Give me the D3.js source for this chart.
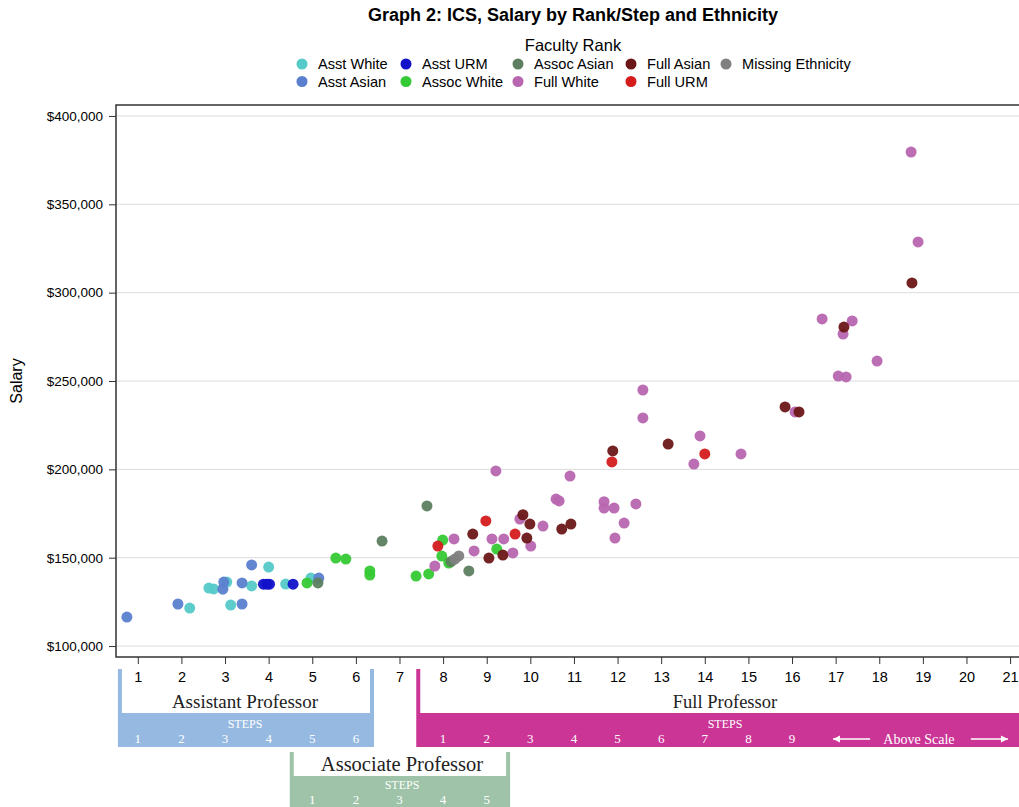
<!DOCTYPE html>
<html>
<head>
<meta charset="utf-8">
<script src="https://cdn.jsdelivr.net/npm/d3@7"></script>
<style>
  body { margin: 0; background: #fff; }
  svg { font-family: "Liberation Sans", Arial, sans-serif; }
</style>
</head>
<body>
<div id="chart"></div>
<script>
// [step, salary]
var asstWhite = [[2.19, 121500], [2.63, 132800], [2.74, 132300], [3.04, 136200], [3.13, 123200],
  [3.61, 134000], [4.00, 144700], [4.39, 135100], [4.97, 138500]];
var asstAsian = [[0.75, 116400], [1.92, 123800], [2.97, 136200], [2.95, 132200], [3.39, 135700],
  [3.61, 145900], [3.39, 123800], [5.15, 138500]];
var asstURM = [[3.88, 135000], [3.96, 135000], [4.02, 135000], [4.56, 135000]];
var assocWhite = [[4.88, 135700], [5.54, 149800], [5.77, 149200], [6.32, 142500], [6.32, 140200],
  [7.38, 139600], [7.67, 140800], [7.99, 160000], [7.97, 150900], [8.13, 147000], [9.23, 154900]];
var assocAsian = [[5.13, 135700], [6.60, 159400], [7.63, 179300], [8.59, 142500], [8.18, 147800]];
var fullWhite = [[18.73, 379600], [18.89, 328700], [16.69, 285100], [17.38, 284000], [17.17, 276600],
  [17.06, 252800], [17.24, 252300], [17.95, 261300], [16.07, 232500], [12.58, 244900], [12.58, 229100],
  [13.89, 218900], [13.75, 203000], [14.83, 208700], [10.91, 196200], [9.21, 199100],
  [11.69, 181700], [11.69, 178100], [11.92, 178100], [12.42, 180400], [12.15, 169600], [11.94, 161100],
  [10.59, 183200], [10.66, 182100], [9.76, 171900], [10.29, 167900], [8.25, 160600], [9.12, 160600],
  [9.39, 160600], [8.71, 153800], [9.60, 152700], [10.01, 156600], [7.81, 145300]];
var fullAsian = [[18.75, 305500], [17.19, 280500], [15.84, 235300], [16.16, 232500], [11.89, 210400],
  [13.16, 214300], [9.83, 174300], [9.99, 169000], [10.72, 166200], [10.93, 169000], [8.68, 163400],
  [9.92, 161100], [9.05, 149800], [9.37, 151500]];
var fullURM = [[14.00, 208700], [11.87, 204200], [8.98, 170800], [9.65, 163400], [7.88, 156600]];
var missingEth = [[8.36, 151000], [8.27, 149200]];

var seriesNames = ["Asst White", "Asst Asian", "Asst URM", "Assoc White", "Assoc Asian",
  "Full White", "Full Asian", "Full URM", "Missing Ethnicity"];
var seriesData = [asstWhite, asstAsian, asstURM, assocWhite, assocAsian, fullWhite, fullAsian, fullURM, missingEth];
var seriesColors = ["#56c9c9", "#5b7fcf", "#1212c9", "#35c935", "#5d7e5f", "#b866b0", "#6b1717", "#d41c1c", "#808080"];

var xTicks = d3.range(1, 22);
var yTicks = [100000, 150000, 200000, 250000, 300000, 350000, 400000];

var width = 1019, height = 807;
var plot = {left: 116, top: 105, right: 1021, bottom: 657};

var svg = d3.select("#chart").append("svg")
  .attr("width", width)
  .attr("height", height);

var x = d3.scaleLinear().domain([0.5, 21.25]).range([plot.left, plot.right]);
var y = d3.scaleLinear().domain([93800, 406200]).range([plot.bottom, plot.top]);

// title
svg.append("text")
  .attr("x", 573).attr("y", 21)
  .attr("text-anchor", "middle")
  .style("font-size", "18px").style("font-weight", "bold")
  .text("Graph 2: ICS, Salary by Rank/Step and Ethnicity");

// legend
svg.append("text")
  .attr("x", 573).attr("y", 51)
  .attr("text-anchor", "middle")
  .style("font-size", "16.5px")
  .text("Faculty Rank");

// laid out column by column, two rows
var legendCols = [302, 406, 518, 631, 726];
var legend = svg.append("g");
seriesNames.forEach(function(name, k) {
  var col = Math.floor(k / 2), row = k % 2;
  var g = legend.append("g")
    .attr("transform", "translate(" + legendCols[col] + "," + (64 + row * 17.5) + ")");
  g.append("circle").attr("r", 5.5).attr("fill", seriesColors[k]);
  g.append("text").attr("x", 16).attr("y", 5)
    .style("font-size", "14.6px").text(name);
});

// grid
svg.append("g")
  .selectAll("line")
  .data(yTicks)
  .join("line")
  .attr("x1", plot.left).attr("x2", width)
  .attr("y1", d => y(d)).attr("y2", d => y(d))
  .attr("stroke", "#dcdcdc").attr("stroke-width", 1);

// axes
var yAxis = svg.append("g")
  .attr("transform", "translate(" + plot.left + ",0)")
  .call(d3.axisLeft(y).tickValues(yTicks).tickSize(7).tickPadding(6)
    .tickFormat(d => "$" + d3.format(",")(d)));
yAxis.select(".domain").remove();
yAxis.selectAll("text").style("font-size", "13.5px").attr("fill", "#000");
yAxis.selectAll("line").attr("stroke", "#333");

var xAxis = svg.append("g")
  .attr("transform", "translate(0," + plot.bottom + ")")
  .call(d3.axisBottom(x).tickValues(xTicks).tickSize(7).tickPadding(8));
xAxis.select(".domain").remove();
xAxis.selectAll("text").style("font-size", "14.5px").attr("fill", "#000");
xAxis.selectAll("line").attr("stroke", "#333");

// frame
svg.append("path")
  .attr("d", "M" + width + "," + plot.top + "H" + plot.left + "V" + plot.bottom + "H" + width)
  .attr("fill", "none").attr("stroke", "#333").attr("stroke-width", 1.5);

svg.append("text")
  .attr("transform", "translate(22," + 381 + ") rotate(-90)")
  .attr("text-anchor", "middle")
  .style("font-size", "16px")
  .text("Salary");

// points
seriesData.forEach(function(pts, i) {
  svg.append("g")
    .selectAll("circle")
    .data(pts)
    .join("circle")
    .attr("cx", d => x(d[0]))
    .attr("cy", d => y(d[1]))
    .attr("r", 5.5)
    .attr("fill", seriesColors[i])
    .attr("fill-opacity", 0.95);
});

// rank / step brackets under the axis
var serif = "'Liberation Serif', 'DejaVu Serif', serif";
function bracket(opt) {
  var g = svg.append("g");
  var x0 = x(opt.from), x1 = opt.to == null ? width + 5 : x(opt.to);
  g.append("rect")
    .attr("x", x0 - 2).attr("y", opt.bandTop)
    .attr("width", x1 - x0 + 4).attr("height", opt.bandH)
    .attr("fill", opt.color);
  g.append("rect").attr("x", x0 - 2).attr("y", opt.lineTop)
    .attr("width", 4).attr("height", opt.bandTop - opt.lineTop).attr("fill", opt.color);
  if (opt.to != null) {
    g.append("rect").attr("x", x1 - 2).attr("y", opt.lineTop)
      .attr("width", 4).attr("height", opt.bandTop - opt.lineTop).attr("fill", opt.color);
  }
  g.append("text")
    .attr("x", opt.labelX).attr("y", opt.bandTop - 5)
    .attr("text-anchor", "middle")
    .style("font-family", serif).style("font-size", opt.labelSize + "px").attr("fill", "#222")
    .text(opt.label);
  g.append("text")
    .attr("x", opt.labelX).attr("y", opt.bandTop + opt.stepsDy)
    .attr("text-anchor", "middle")
    .style("font-family", serif).style("font-size", "12px").attr("fill", "#fff")
    .text("STEPS");
  g.selectAll(".step")
    .data(opt.steps)
    .join("text")
    .attr("x", (d, i) => x(opt.firstTick + i))
    .attr("y", opt.bandTop + opt.stepDy)
    .attr("text-anchor", "middle")
    .style("font-family", serif).style("font-size", "13px").attr("fill", "#fff")
    .text(d => d);
  return g;
}

bracket({from: 0.59, to: 6.37, lineTop: 669, bandTop: 713, bandH: 34, color: "#95b9e1", stepsDy: 15, stepDy: 30,
  label: "Assistant Professor", labelX: 245, labelSize: 19, steps: [1, 2, 3, 4, 5, 6], firstTick: 1});
bracket({from: 4.53, to: 9.49, lineTop: 752, bandTop: 776, bandH: 40, color: "#9ec3a8", stepsDy: 13, stepDy: 28,
  label: "Associate Professor", labelX: 402, labelSize: 20.5, steps: [1, 2, 3, 4, 5], firstTick: 5});
var full = bracket({from: 7.43, to: null, lineTop: 669, bandTop: 713, bandH: 34, color: "#cb3596", stepsDy: 15, stepDy: 30,
  label: "Full Professor", labelX: 725, labelSize: 18.5, steps: [1, 2, 3, 4, 5, 6, 7, 8, 9], firstTick: 8});

full.append("text")
  .attr("x", x(18.91)).attr("y", 744)
  .attr("text-anchor", "middle")
  .style("font-family", serif).style("font-size", "14px").attr("fill", "#fff")
  .text("Above Scale");
var arrows = [[x(17.79), x(16.94)], [x(20.1), x(20.95)]];
arrows.forEach(function(a) {
  var dir = a[1] > a[0] ? 1 : -1;
  full.append("line")
    .attr("x1", a[0]).attr("x2", a[1]).attr("y1", 739).attr("y2", 739)
    .attr("stroke", "#fff").attr("stroke-width", 1.5);
  full.append("path")
    .attr("d", "M" + a[1] + ",739 l" + (-7 * dir) + ",-3.5 v7 z")
    .attr("fill", "#fff");
});
</script>
</body>
</html>
